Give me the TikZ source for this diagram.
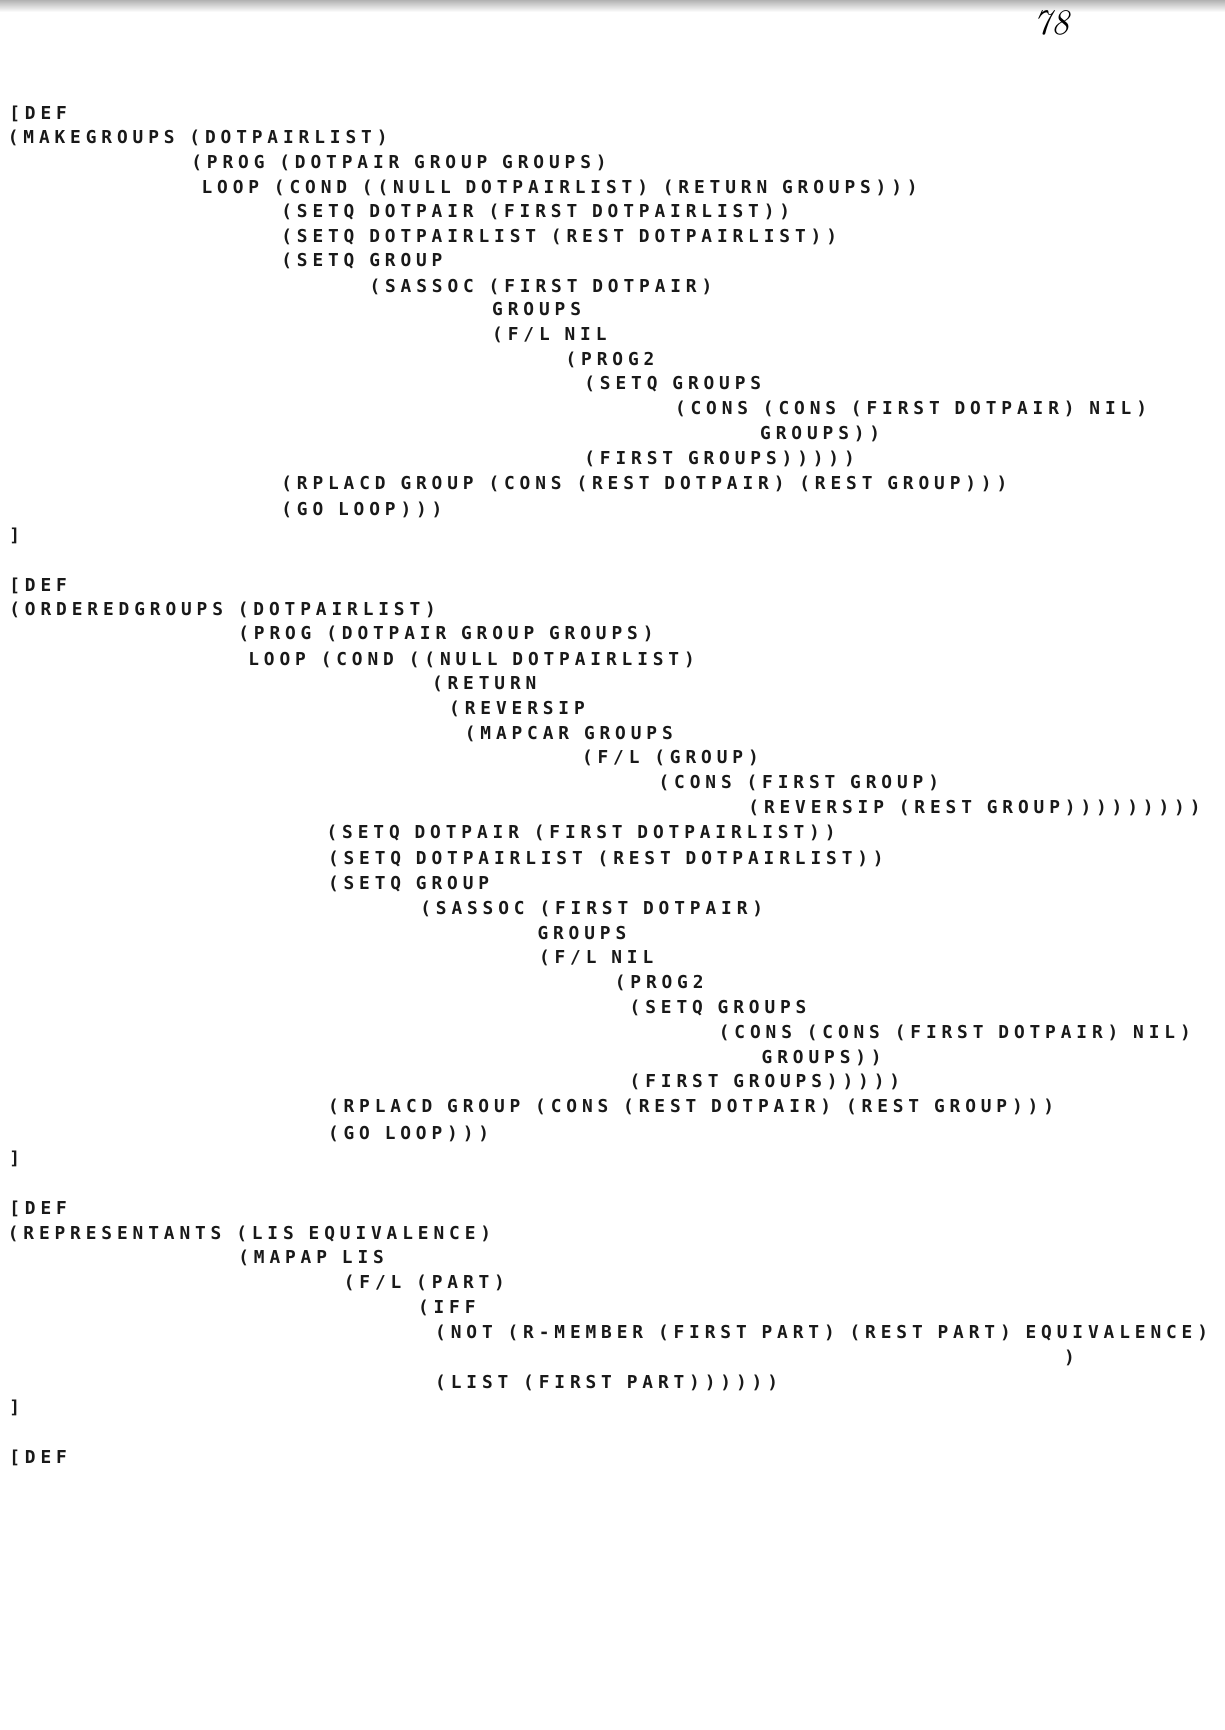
\documentclass[tikz,border=0pt]{standalone}
\usepackage{fontspec}
\newfontfamily\codefont[LetterSpace=27.5]{DejaVu Sans Mono}
\newcommand\codestyle{\codefont\bfseries\fontsize{8.9pt}{10pt}\selectfont\spaceskip=7.42pt\relax\xspaceskip=7.42pt\relax}
\begin{document}
\begin{tikzpicture}[x=0.5pt,y=-0.5pt,
  codeline/.style={anchor=base west, inner sep=0pt, outer sep=0pt, font=\codestyle, text=black!90},
  pagenum/.style={anchor=center, inner sep=0pt, font=\fontsize{18pt}{19pt}\selectfont\itshape}]
\fill[white] (0,0) rectangle (1225,1730);
\useasboundingbox (0,0) rectangle (1225,1730);
\shade[top color=black!30, bottom color=white] (0,0) rectangle (1225,12);
\node[pagenum] (pg) at (1051,23) {78};
% block 1
\node[codeline] (a1) at (9.4,119.8) {[DEF};
\node[codeline] (a2) at (7.8,143.2) {(MAKEGROUPS (DOTPAIRLIST)};
\node[codeline] (a3) at (191.4,168.8) {(PROG (DOTPAIR GROUP GROUPS)};
\node[codeline] (a4) at (201.6,193.2) {LOOP (COND ((NULL DOTPAIRLIST) (RETURN GROUPS)))};
\node[codeline] (a5) at (281.3,217.5) {(SETQ DOTPAIR (FIRST DOTPAIRLIST))};
\node[codeline] (a6) at (281.3,242.2) {(SETQ DOTPAIRLIST (REST DOTPAIRLIST))};
\node[codeline] (a7) at (281.3,266.5) {(SETQ GROUP};
\node[codeline] (a8) at (369.5,292.2) {(SASSOC (FIRST DOTPAIR)};
\node[codeline] (a9) at (492.2,315.8) {GROUPS};
\node[codeline] (a10) at (492.2,340.5) {(F/L NIL};
\node[codeline] (a11) at (565.6,365.5) {(PROG2};
\node[codeline] (a12) at (584.4,389.8) {(SETQ GROUPS};
\node[codeline] (a13) at (675,414.8) {(CONS (CONS (FIRST DOTPAIR) NIL)};
\node[codeline] (a14) at (760.2,439.8) {GROUPS))};
\node[codeline] (a15) at (584.4,464.8) {(FIRST GROUPS)))))};
\node[codeline] (a16) at (281.3,489.8) {(RPLACD GROUP (CONS (REST DOTPAIR) (REST GROUP)))};
\node[codeline] (a17) at (281.3,515.8) {(GO LOOP)))};
\node[codeline] (a18) at (9.4,541.5) {]};
% block 2
\node[codeline] (b1) at (9.4,591.5) {[DEF};
\node[codeline] (b2) at (9.4,615.8) {(ORDEREDGROUPS (DOTPAIRLIST)};
\node[codeline] (b3) at (238.3,639.8) {(PROG (DOTPAIR GROUP GROUPS)};
\node[codeline] (b4) at (248.4,665.5) {LOOP (COND ((NULL DOTPAIRLIST)};
\node[codeline] (b5) at (432,689.8) {(RETURN};
\node[codeline] (b6) at (449.2,714.8) {(REVERSIP};
\node[codeline] (b7) at (464.8,739.2) {(MAPCAR GROUPS};
\node[codeline] (b8) at (582,763.8) {(F/L (GROUP)};
\node[codeline] (b9) at (658.6,788.2) {(CONS (FIRST GROUP)};
\node[codeline] (b10) at (748.4,813.8) {(REVERSIP (REST GROUP)))))))))};
\node[codeline] (b11) at (326.6,838.2) {(SETQ DOTPAIR (FIRST DOTPAIRLIST))};
\node[codeline] (b12) at (328,864.8) {(SETQ DOTPAIRLIST (REST DOTPAIRLIST))};
\node[codeline] (b13) at (328,889.2) {(SETQ GROUP};
\node[codeline] (b14) at (420.3,914.2) {(SASSOC (FIRST DOTPAIR)};
\node[codeline] (b15) at (537.5,939.2) {GROUPS};
\node[codeline] (b16) at (539,963.2) {(F/L NIL};
\node[codeline] (b17) at (614.8,988.8) {(PROG2};
\node[codeline] (b18) at (629.7,1013.2) {(SETQ GROUPS};
\node[codeline] (b19) at (718.8,1038.2) {(CONS (CONS (FIRST DOTPAIR) NIL)};
\node[codeline] (b20) at (761.7,1063.2) {GROUPS))};
\node[codeline] (b21) at (629.7,1087.2) {(FIRST GROUPS)))))};
\node[codeline] (b22) at (328,1112.2) {(RPLACD GROUP (CONS (REST DOTPAIR) (REST GROUP)))};
\node[codeline] (b23) at (328,1139) {(GO LOOP)))};
\node[codeline] (b24) at (9.4,1164.8) {]};
% block 3
\node[codeline] (c1) at (9.4,1214.8) {[DEF};
\node[codeline] (c2) at (7.8,1239.2) {(REPRESENTANTS (LIS EQUIVALENCE)};
\node[codeline] (c3) at (238.3,1263.8) {(MAPAP LIS};
\node[codeline] (c4) at (343.8,1288.8) {(F/L (PART)};
\node[codeline] (c5) at (418,1313.2) {(IFF};
\node[codeline] (c6) at (435.2,1338.2) {(NOT (R-MEMBER (FIRST PART) (REST PART) EQUIVALENCE)};
\node[codeline] (c7) at (1064,1363.2) {)};
\node[codeline] (c8) at (435.2,1388.2) {(LIST (FIRST PART))))))};
\node[codeline] (c9) at (9.4,1413.2) {]};
\node[codeline] (c10) at (9.4,1463.2) {[DEF};
\end{tikzpicture}
\end{document}
